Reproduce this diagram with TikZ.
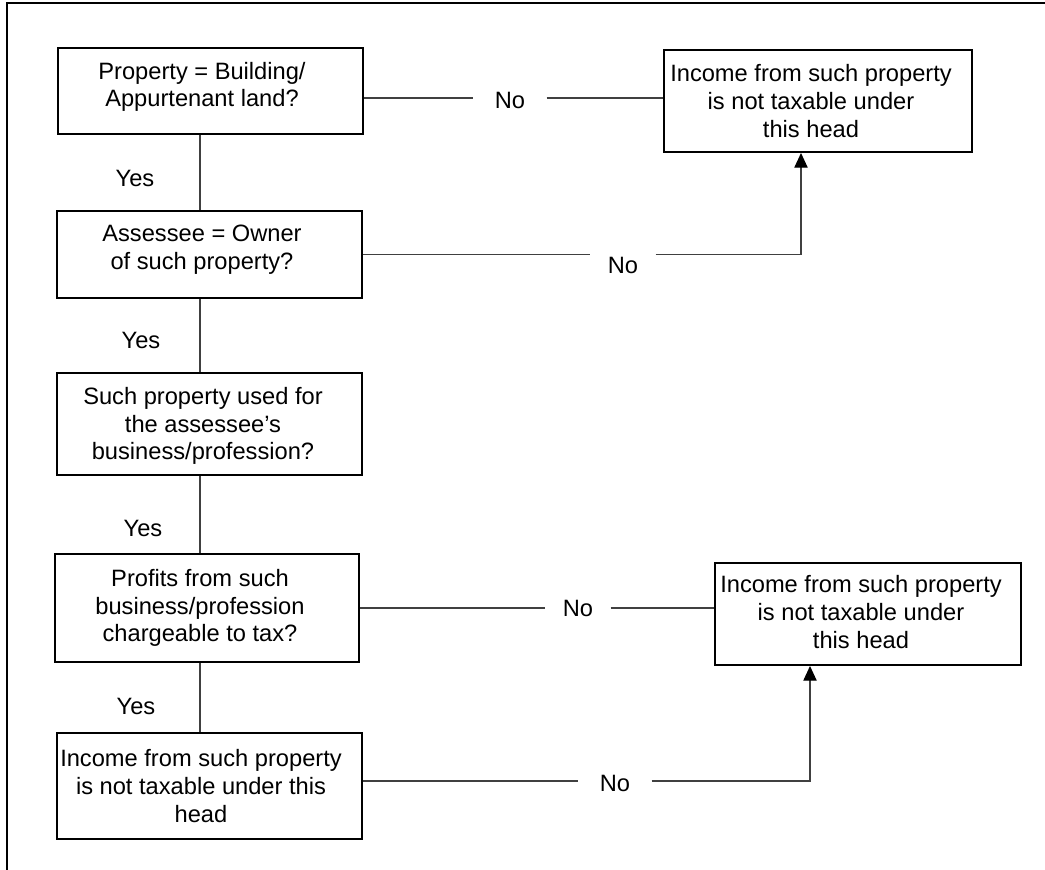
\documentclass[tikz,border=0pt]{standalone}
\usepackage{fontspec}
\setmainfont{Liberation Sans}
\usetikzlibrary{arrows.meta}
\begin{document}
\begin{tikzpicture}[x=0.75pt,y=-0.75pt,
  box/.style={draw=black,line width=1.5pt,rectangle,inner sep=0pt},
  txt/.style={align=center,inner sep=0pt,font=\fontsize{17.75pt}{20.75pt}\selectfont},
  lab/.style={inner ysep=0pt,font=\fontsize{17.75pt}{20.75pt}\selectfont},
  conn/.style={draw=black!75,line width=0.8pt},
  arr/.style={conn,-{Triangle[length=11pt,width=10pt,color=black]}}]
\useasboundingbox (0,0) rectangle (1045,870);
% frame
\draw[line width=1.5pt] (1045,3) -- (7,3) -- (7,870);
% boxes
\node[box,minimum width=305*0.75pt,minimum height=86*0.75pt] (b1) at (210.5,91) {};
\node[box,minimum width=305*0.75pt,minimum height=87*0.75pt] (b2) at (209.5,254.5) {};
\node[box,minimum width=305*0.75pt,minimum height=102*0.75pt] (b3) at (209.5,424) {};
\node[box,minimum width=304*0.75pt,minimum height=108*0.75pt] (b4) at (207,608) {};
\node[box,minimum width=305*0.75pt,minimum height=106*0.75pt] (b5) at (209.5,786) {};
\node[box,minimum width=308*0.75pt,minimum height=102*0.75pt] (r1) at (818,101) {};
\node[box,minimum width=306*0.75pt,minimum height=102*0.75pt] (r2) at (868,614) {};
% texts
\node[txt] (t1) at (202,87) {Property = Building/\\Appurtenant land?};
\node[txt] (t2) at (202,250) {Assessee = Owner\\of such property?};
\node[txt] (t3) at (203,426) {Such property used for\\the assessee’s\\business/profession?};
\node[txt] (t4) at (200,608) {Profits from such\\business/profession\\chargeable to tax?};
\node[txt] (t5) at (201,786) {Income from such property\\is not taxable under this\\head};
\node[txt] (tr1) at (811,101) {Income from such property\\is not taxable under\\this head};
\node[txt] (tr2) at (861,612) {Income from such property\\is not taxable under\\this head};
% yes labels
\node[lab,inner xsep=0pt] (y1) at (135,178) {Yes};
\node[lab,inner xsep=0pt] (y2) at (141,340) {Yes};
\node[lab,inner xsep=0pt] (y3) at (143,528) {Yes};
\node[lab,inner xsep=0pt] (y4) at (136,706) {Yes};
% no labels
\node[lab,inner xsep=16pt] (n1) at (510,100) {No};
\node[lab,inner xsep=13pt] (n2) at (623,265) {No};
\node[lab,inner xsep=13pt] (n3) at (578,608) {No};
\node[lab,inner xsep=16pt] (n4) at (615,783) {No};
% helper coordinates
\coordinate (sp) at (200,0);
\coordinate (h1) at (0,98);
\coordinate (h2) at (0,254.5);
\coordinate (h5) at (0,781);
\coordinate (a1) at (801,0);
\coordinate (a2) at (810,0);
% spine
\draw[conn] (b1.south -| sp) -- (b2.north -| sp);
\draw[conn] (b2.south -| sp) -- (b3.north -| sp);
\draw[conn] (b3.south -| sp) -- (b4.north -| sp);
\draw[conn] (b4.south -| sp) -- (b5.north -| sp);
% row 1
\draw[conn] (b1.east |- h1) -- (n1.west |- h1);
\draw[conn] (n1.east |- h1) -- (r1.west |- h1);
% row 2
\draw[conn] (b2.east |- h2) -- (n2.west |- h2);
\draw[arr] (n2.east |- h2) -- (a1 |- h2) -- (r1.south -| a1);
% row 4
\draw[conn] (b4.east) -- (n3.west |- b4.east);
\draw[conn] (n3.east |- b4.east) -- (r2.west |- b4.east);
% row 5
\draw[conn] (b5.east |- h5) -- (n4.west |- h5);
\draw[arr] (n4.east |- h5) -- (a2 |- h5) -- (r2.south -| a2);
\end{tikzpicture}
\end{document}
